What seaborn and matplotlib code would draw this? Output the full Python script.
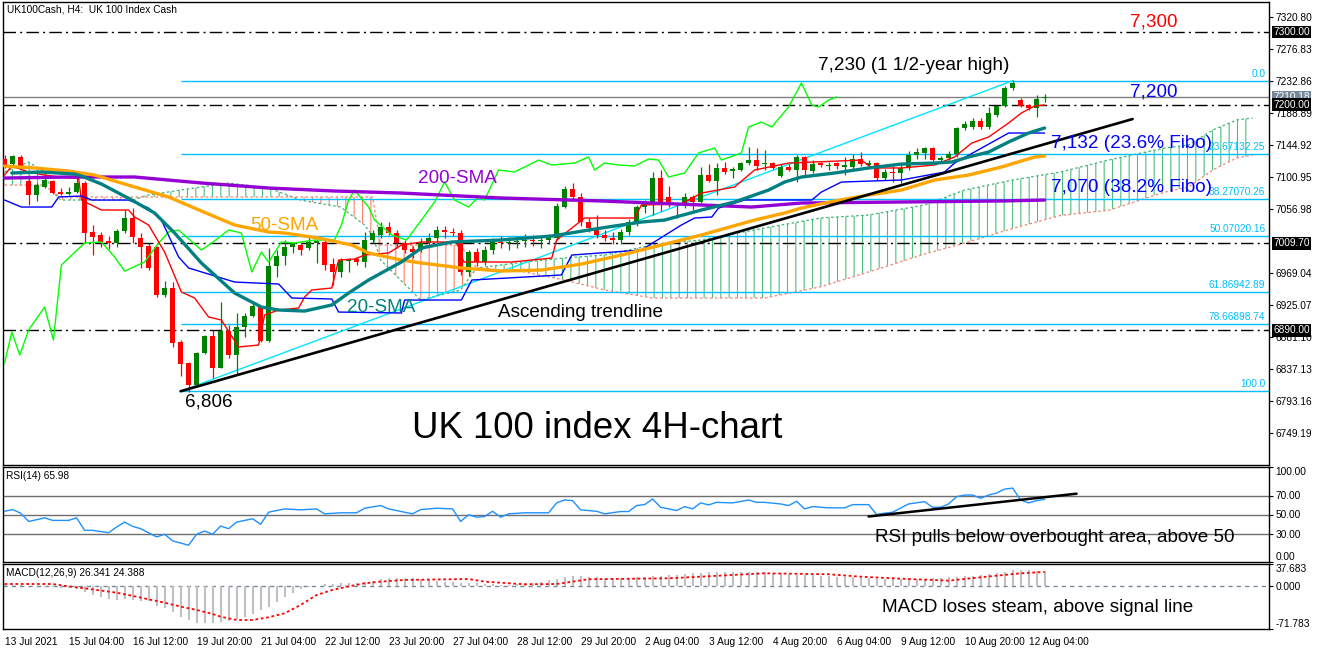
import numpy as np
import pandas as pd
import matplotlib
matplotlib.use("Agg")
import matplotlib.pyplot as plt
import matplotlib.transforms as mtransforms
import seaborn as sns

# UK100Cash H4 candles, bar 0 = 13 Jul 2021 00:00, last bar = 12 Aug 12:00
opens = [7125.4, 7118.5, 7128.0, 7095.2, 7076.0, 7087.0, 7095.0, 7080.0, 7078.0, 7080.0,
         7092.5, 7025.2, 7021.0, 7012.8, 7010.0, 7026.5, 7044.4, 7016.9, 7006.0, 7004.6,
         6938.7, 6948.3, 6874.1, 6845.3, 6815.1, 6859.0, 6882.4, 6838.4, 6889.2, 6856.3,
         6894.7, 6909.8, 6922.2, 6875.5, 6978.5, 6992.2, 7004.6, 7007.3, 7003.2, 7010.0,
         7011.4, 6981.2, 6970.3, 6985.3, 6988.1, 6984.0, 7014.2, 7021.0, 7032.0, 7023.8,
         7010.0, 7001.8, 7000.5, 7010.1, 7016.9, 7027.9, 7025.2, 7023.8, 6970.3, 6997.7,
         6984.0, 7000.5, 7011.5, 7010.1, 7011.5, 7012.8, 7014.2, 7012.8, 7014.2, 7016.9,
         7059.5, 7084.2, 7073.3, 7038.9, 7030.7, 7021.1, 7016.9, 7014.2, 7025.2, 7038.9,
         7059.5, 7066.4, 7099.3, 7073.2, 7065.0, 7063.6, 7073.2, 7066.4, 7103.4, 7095.2,
         7113.0, 7108.9, 7110.3, 7119.9, 7124.0, 7118.5, 7119.9, 7102.1, 7114.4, 7110.3,
         7128.1, 7108.9, 7119.9, 7115.8, 7119.9, 7114.4, 7114.4, 7125.4, 7117.2, 7119.9,
         7099.3, 7107.6, 7106.2, 7113.0, 7130.9, 7133.7, 7140.6, 7124.0, 7126.8, 7132.6,
         7168.0, 7169.4, 7177.6, 7169.4, 7185.8, 7198.2, 7222.9, 7206.4, 7199.5, 7195.4,
         7209.0]
highs = [7130.9, 7131.0, 7131.0, 7103.4, 7092.5, 7106.2, 7097.0, 7085.6, 7087.0, 7099.0,
         7095.2, 7034.8, 7025.2, 7019.7, 7029.3, 7055.4, 7058.1, 7023.8, 7010.0, 7006.0,
         6957.9, 6956.5, 6876.9, 6846.6, 6860.4, 6883.7, 6890.6, 6929.1, 6897.5, 6914.0,
         6914.0, 6927.7, 6923.6, 7003.2, 7000.5, 7014.2, 7011.4, 7010.0, 7018.3, 7014.0,
         7014.2, 6989.5, 6989.5, 6989.5, 6990.9, 7025.2, 7027.9, 7038.9, 7038.9, 7027.9,
         7014.2, 7006.0, 7016.9, 7023.8, 7033.4, 7033.4, 7030.7, 7027.9, 7000.5, 7003.2,
         7006.0, 7016.9, 7019.7, 7018.3, 7019.7, 7022.5, 7021.1, 7019.7, 7022.5, 7065.0,
         7088.4, 7092.5, 7078.7, 7044.4, 7048.5, 7027.9, 7025.2, 7029.3, 7043.0, 7062.3,
         7069.1, 7107.6, 7110.3, 7087.9, 7066.4, 7078.7, 7076.0, 7114.8, 7118.9, 7120.3,
         7121.7, 7114.4, 7121.7, 7141.9, 7140.6, 7138.0, 7121.7, 7118.5, 7118.5, 7130.9,
         7129.5, 7124.0, 7122.0, 7121.0, 7122.0, 7128.0, 7132.6, 7135.4, 7124.0, 7122.0,
         7111.7, 7115.8, 7119.9, 7137.0, 7140.0, 7142.0, 7142.0, 7130.0, 7137.0, 7170.0,
         7177.6, 7181.8, 7181.8, 7197.0, 7200.0, 7225.6, 7233.9, 7209.2, 7200.9, 7213.3,
         7214.6]
lows = [7113.0, 7117.0, 7113.0, 7062.2, 7067.7, 7085.6, 7077.0, 7076.0, 7076.0, 7078.7,
        7010.1, 6993.6, 7004.6, 7001.8, 7004.6, 7023.8, 7010.0, 6975.8, 6973.0, 6935.9,
        6935.9, 6867.3, 6827.5, 6806.0, 6812.4, 6857.7, 6824.7, 6838.4, 6852.2, 6828.8,
        6881.0, 6908.5, 6874.0, 6874.0, 6963.4, 6979.9, 6996.4, 6993.6, 7000.5, 6982.6,
        6973.0, 6952.4, 6963.4, 6970.3, 6979.9, 6977.1, 7010.0, 7017.0, 7021.0, 7003.2,
        6996.4, 6989.5, 6997.7, 7004.6, 7011.5, 7016.9, 7019.7, 6966.2, 6964.8, 6978.5,
        6979.9, 6995.0, 7003.2, 7000.5, 7003.2, 7004.6, 7006.0, 7003.2, 7008.7, 7014.2,
        7058.1, 7069.1, 7033.4, 7025.2, 7016.9, 7012.8, 7008.7, 7008.7, 7021.1, 7033.4,
        7051.3, 7048.6, 7054.0, 7059.5, 7044.4, 7058.1, 7055.4, 7065.0, 7094.0, 7076.0,
        7104.8, 7099.3, 7109.0, 7117.2, 7110.3, 7110.3, 7111.7, 7100.7, 7108.9, 7093.8,
        7103.4, 7106.2, 7114.0, 7110.0, 7112.0, 7103.0, 7111.7, 7115.8, 7113.0, 7096.6,
        7096.6, 7094.0, 7092.5, 7110.0, 7126.0, 7126.0, 7122.6, 7120.0, 7124.0, 7128.0,
        7165.0, 7167.0, 7167.0, 7167.0, 7183.0, 7197.0, 7220.0, 7196.8, 7193.0, 7183.0,
        7203.5]
closes = [7117.2, 7129.5, 7114.0, 7076.0, 7089.7, 7096.6, 7078.7, 7078.0, 7080.0, 7092.5,
          7023.8, 7018.3, 7011.4, 7010.0, 7026.5, 7044.4, 7018.3, 7004.6, 6975.8, 6938.7,
          6948.3, 6872.8, 6843.9, 6815.1, 6859.0, 6882.4, 6838.4, 6889.2, 6856.3, 6894.7,
          6909.8, 6923.6, 6875.5, 6978.5, 6992.2, 7004.6, 7010.0, 7000.5, 7011.4, 7012.8,
          6979.9, 6970.3, 6986.7, 6988.1, 6984.0, 7014.2, 7023.8, 7032.0, 7023.8, 7010.0,
          7000.5, 6997.7, 7010.1, 7016.9, 7027.9, 7025.2, 7023.8, 6970.3, 6997.7, 6984.0,
          7000.5, 7011.5, 7010.1, 7011.5, 7012.8, 7014.2, 7012.8, 7014.2, 7016.9, 7060.9,
          7084.2, 7073.3, 7038.9, 7030.7, 7021.1, 7016.9, 7014.2, 7025.2, 7038.9, 7059.5,
          7066.4, 7099.3, 7066.4, 7063.6, 7062.2, 7073.2, 7066.4, 7103.4, 7095.2, 7113.0,
          7107.6, 7111.7, 7119.9, 7124.0, 7115.8, 7119.9, 7113.0, 7114.4, 7110.3, 7128.1,
          7110.3, 7118.5, 7117.2, 7117.2, 7115.8, 7117.2, 7125.4, 7118.5, 7119.9, 7099.3,
          7107.6, 7106.2, 7113.0, 7130.9, 7135.0, 7140.6, 7124.0, 7126.8, 7132.6, 7168.0,
          7173.5, 7177.6, 7169.4, 7188.6, 7198.2, 7222.9, 7229.8, 7198.2, 7195.4, 7207.8,
          7210.2]

date_bars = [0, 8, 16, 24, 32, 40, 48, 56, 64, 72, 80, 88, 96, 104, 112, 120, 128]
date_labels = ["13 Jul 2021", "15 Jul 04:00", "16 Jul 12:00", "19 Jul 20:00", "21 Jul 04:00",
               "22 Jul 12:00", "23 Jul 20:00", "27 Jul 04:00", "28 Jul 12:00", "29 Jul 20:00",
               "2 Aug 04:00", "3 Aug 12:00", "4 Aug 20:00", "6 Aug 04:00", "9 Aug 12:00",
               "10 Aug 20:00", "12 Aug 04:00"]
price_ticks = [7320.80, 7276.83, 7232.86, 7188.89, 7144.92, 7100.95, 7056.98,
               6969.04, 6925.07, 6881.10, 6837.13, 6793.16, 6749.19]

# moving averages (bar, price)
sma20_x = [0.9, 4.6, 8.75, 9.6, 12.1, 15.9, 18.75, 21.25, 24.6, 28.75, 32.1, 34.25, 37.5,
           40.9, 43, 45.5, 49.6, 52.1, 55.9, 62.1, 68.4, 74.6, 79.6, 82.5, 87.1, 91.25,
           95.5, 97.5, 99.6, 103.75, 108, 112.1, 116.25, 118.4, 120.5, 123, 125.5, 128, 130]
sma20_y = [7106.2, 7107.6, 7104.8, 7102.1, 7091.1, 7069.1, 7051.3, 7023.8, 6982.6, 6941.4,
           6922.2, 6918.1, 6916.7, 6925.0, 6941.4, 6959.3, 6984.0, 7003.2, 7011.5, 7014.2,
           7019.7, 7030.7, 7038.9, 7041.6, 7055.4, 7066.4, 7082.8, 7093.8, 7100.7, 7106.2,
           7113.1, 7118.5, 7119.9, 7121.3, 7128.2, 7135.0, 7148.8, 7161.1, 7168.0]
sma50_x = [0, 3.75, 8, 11.25, 16.25, 20.5, 24.6, 28.75, 33, 35, 39.25, 43.4, 45.5, 49.6,
           52.1, 57.1, 62.1, 67.1, 72.1, 77.1, 82.1, 87.1, 93.75, 97.5, 99.6, 103.75, 108,
           112.1, 116.25, 120.5, 124.6, 128.75, 130]
sma50_y = [7115.8, 7113.1, 7108.9, 7103.4, 7087.0, 7073.3, 7054.0, 7034.8, 7025.2, 7023.8,
           7016.9, 7007.3, 6996.4, 6986.7, 6982.6, 6975.8, 6971.6, 6973.0, 6981.2, 6993.6,
           7007.3, 7021.1, 7041.6, 7051.3, 7058.1, 7067.8, 7076.0, 7082.8, 7096.6, 7103.4,
           7114.4, 7128.2, 7129.5]
sma200_x = [0, 8, 16.25, 24.6, 33, 41.25, 49.6, 62.1, 74.6, 87.1, 93.4, 99.6, 112.1, 124.6, 130]
sma200_y = [7099.3, 7100.7, 7100.7, 7092.5, 7085.6, 7081.5, 7078.7, 7071.9, 7067.8, 7062.3,
            7059.5, 7065.0, 7066.4, 7067.8, 7069.1]

# ichimoku lines
tenkan_x = [0, 0.9, 3, 5, 8, 9.25, 9.6, 12.1, 15.5, 16.25, 18, 20, 22.1, 23.75, 25.5, 27.1,
            29.25, 31.75, 32.5, 34.25, 36.75, 37.5, 38.4, 40.9, 41.75, 43.75, 45, 48, 49.6,
            52.1, 56.5, 57.4, 63.4, 68.4, 69, 72.5, 78.75, 79.6, 84.6, 87.1, 91.25, 93.75, 98,
            107.1, 108.4, 112.1, 116.25, 118.75, 120.9, 123, 125.5, 127.1, 128.75, 130]
tenkan_y = [7103.4, 7115.8, 7107.6, 7103.4, 7099.3, 7099.3, 7069.1, 7055.4, 7055.4, 7045.8,
            7034.8, 6997.7, 6942.8, 6934.6, 6908.5, 6904.4, 6867.3, 6870.0, 6911.2, 6918.1,
            6920.8, 6935.9, 6945.6, 6948.3, 6986.7, 6988.1, 6993.6, 6996.4, 7007.3, 7011.5,
            7011.5, 6984.0, 6984.0, 6989.5, 7014.2, 7044.4, 7044.4, 7062.3, 7063.6, 7078.7,
            7087.0, 7110.3, 7119.9, 7124.0, 7113.1, 7113.1, 7117.2, 7128.2, 7147.4, 7155.6,
            7174.9, 7188.6, 7198.2, 7199.6]
kijun_x = [0, 2.1, 5.9, 6.75, 9.6, 10.9, 15.5, 18, 19.6, 21.75, 23, 28.75, 34.25, 35.9,
           40.9, 41.75, 49.6, 50, 57.1, 58.4, 69.6, 70.9, 79.6, 84.6, 86.25, 88.4, 89.25,
           92.5, 100.9, 102.1, 104.6, 112.1, 117.5, 118.75, 124.6, 125.5, 130]
kijun_y = [7069.1, 7059.5, 7059.5, 7073.3, 7074.6, 7069.1, 7069.1, 7058.1, 7041.6, 6990.9,
           6975.8, 6956.5, 6953.8, 6934.6, 6933.2, 6915.3, 6914.0, 6931.8, 6931.8, 6959.3,
           6966.2, 6993.6, 7000.5, 7034.8, 7044.4, 7045.8, 7058.1, 7069.1, 7069.1, 7080.1,
           7093.8, 7096.6, 7107.6, 7119.9, 7155.6, 7161.1, 7161.1]
chikou_x = [0, 0.9, 1.9, 3, 5, 6.1, 7.1, 10, 12.1, 13.75, 15, 17.5, 19.25, 20.5, 21.75, 24.6,
            25.9, 28, 29.6, 30.9, 32.1, 33, 34.6, 36.25, 38.75, 41.25, 42.1, 43, 43.75, 45.5,
            46.25, 48.4, 50.25, 52.1, 53.75, 55, 56.25, 58, 59.25, 60, 61.75, 63.75, 66.75,
            68.4, 71.25, 73, 73.75, 75, 76.75, 78.75, 80.5, 81.75, 83, 85, 86.75, 88.75,
            89.6, 92.1, 93, 94.6, 95.9, 98, 99.6, 100.9, 101.75, 103, 104]
chikou_y = [6845.3, 6887.9, 6856.3, 6890.6, 6922.2, 6876.9, 6979.9, 7010.1, 7011.5, 6990.9,
            6971.6, 6984.0, 7010.1, 7025.2, 7027.9, 7000.5, 7010.1, 7027.9, 7023.8, 6970.3,
            6997.7, 6984.0, 7011.5, 7010.1, 7014.2, 7014.2, 7034.8, 7069.1, 7082.8, 7059.5,
            7041.6, 7021.1, 7014.2, 7041.6, 7066.4, 7093.8, 7069.1, 7059.5, 7073.3, 7069.1,
            7110.3, 7107.6, 7124.0, 7117.2, 7119.9, 7128.2, 7110.3, 7119.9, 7117.2, 7115.8,
            7125.4, 7124.0, 7100.7, 7106.2, 7133.7, 7140.5, 7124.0, 7133.7, 7169.4, 7176.2,
            7169.4, 7196.8, 7229.8, 7199.6, 7196.8, 7206.4, 7210.6]
cloud_x = [0, 3, 5, 6, 7, 16, 18, 22, 28, 33, 37, 42, 45, 46, 47, 52, 57, 59, 65, 70, 75,
           81, 87, 95, 102, 108, 115, 120, 126, 132, 138, 145, 148, 151, 154, 156]
span_a = [7107.6, 7121.3, 7107.6, 7080.1, 7069.1, 7069.1, 7076.0, 7082.8, 7092.5, 7085.6,
          7069.1, 7059.5, 7034.8, 7020.0, 6986.7, 6931.8, 6945.6, 6975.8, 6984.0, 6989.5,
          6993.6, 7007.3, 7014.2, 7030.7, 7044.4, 7048.5, 7062.3, 7082.8, 7096.6, 7107.6,
          7124.0, 7140.5, 7144.6, 7165.2, 7179.0, 7181.7]
span_b = [7089.7, 7089.7, 7089.7, 7080.1, 7073.3, 7073.3, 7073.3, 7073.3, 7073.3, 7073.3,
          7073.3, 7073.3, 7073.3, 7073.3, 7007.3, 7007.3, 7007.3, 6975.8, 6970.3, 6959.3,
          6945.6, 6934.6, 6934.6, 6934.6, 6950.0, 6970.3, 6995.0, 7010.0, 7030.0, 7048.0,
          7055.0, 7080.0, 7087.0, 7110.3, 7126.8, 7130.9]

# drawn objects
level_lines = [7300.0, 7200.0, 7009.70, 6890.0]
level_texts = ["7300.00", "7200.00", "7009.70", "6890.00"]
last_price = 7210.18
fib_levels = [7232.86, 7132.25, 7070.26, 7020.16, 6942.89, 6898.74, 6806.56]
fib_labels = ["0.0", "23.67132.25", "38.27070.26", "50.07020.16", "61.86942.89",
              "78.66898.74", "100.0"]
fib_start = 22
fib_line_x = [22, 126]
fib_line_y = [6806.56, 7232.86]
trend_x = [22, 141]
trend_y = [6806.56, 7180.3]

# RSI(14)
rsi_x = [0, 1, 2, 3, 4, 5, 6, 8, 9, 10, 11, 13, 14, 15, 16, 17, 19, 20, 21, 23, 24, 25, 26,
         27, 28, 29, 31, 32, 33, 35, 37, 39, 40, 42, 44, 45, 47, 48, 50, 51, 52, 54, 56, 57,
         58, 59, 60, 61, 62, 63, 65, 68, 69, 70, 71, 72, 74, 75, 77, 78, 79, 80, 81, 82, 84,
         85, 86, 87, 88, 89, 91, 93, 94, 95, 97, 98, 99, 100, 101, 103, 105, 106, 108, 109,
         110, 111, 113, 115, 116, 117, 118, 119, 120, 121, 122, 123, 124, 125, 126, 127, 128,
         129, 130]
rsi_y = [53.4, 55.2, 51.4, 42.7, 44.5, 46.5, 43.8, 43.8, 46.5, 33.3, 33.3, 30.9, 36.8, 42.0,
         37.5, 35.1, 26.4, 29.2, 22.2, 17.7, 29.2, 32.6, 29.2, 37.8, 35.1, 42.0, 45.5, 39.6,
         52.4, 55.9, 54.9, 55.9, 50.7, 51.8, 51.8, 56.6, 59.4, 55.9, 52.4, 50.7, 55.2, 56.6,
         55.9, 42.7, 49.7, 47.2, 47.9, 53.4, 47.2, 50.7, 51.8, 51.8, 62.2, 65.3, 64.6, 54.9,
         53.4, 50.7, 53.1, 53.1, 59.4, 60.4, 66.3, 57.6, 54.2, 58.3, 55.9, 62.2, 60.1, 62.8,
         62.2, 65.3, 62.8, 62.8, 61.1, 59.4, 63.9, 55.9, 58.3, 57.0, 57.0, 60.4, 60.4, 50.0,
         51.4, 52.4, 61.1, 63.5, 57.6, 57.6, 61.1, 68.75, 70.5, 70.5, 67.0, 70.5, 72.6, 76.7,
         77.8, 65.3, 62.2, 64.6, 65.98]
rsi_trend_x = [108, 134]
rsi_trend_y = [47.9, 71.9]

# MACD(12,26,9)
macd_hist = [2, 3, 2, 1, 0, -1, -1, -2, -3, -5,
             -9, -14.6, -18, -21.8, -23, -21.8, -23, -24.6, -25, -32.4,
             -37, -43.7, -52, -56.6, -62.2, -62.2, -62.2, -60.5, -58.3, -55.4,
             -51, -46.5, -39.7, -34.1, -25.7, -17.3, -10.6, -4.9, -1, 1,
             4, 4, 5, 6, 6, 8, 9, 12, 13.6, 14,
             14.6, 14, 12, 10, 9, 8, 7, 6, 5, 5,
             4, 4, 3, 3, 4, 5, 6, 8, 10, 13,
             16, 17, 17, 16, 15, 14, 14, 14, 14, 15,
             16, 17, 18, 19, 20, 21, 22, 23, 24, 24.7,
             25, 25, 25, 25, 24, 24, 23, 22, 21, 20,
             20, 19, 18, 17, 16, 15, 15, 14, 14, 13,
             13, 13, 13, 13, 13, 13, 14, 14, 15, 16,
             17, 18, 19, 21, 23, 25, 27, 27.5, 27, 26.5, 26.3]
signal_x = [0, 6, 8, 10, 12, 14, 16, 18, 20, 22, 24, 26, 27, 29, 31, 33, 35, 37, 39, 41, 43,
            45, 47, 50, 58, 60, 65, 69, 73, 83, 87, 91, 95, 103, 107, 112, 118, 122, 127, 130]
signal_y = [4, 4, 0, -3.3, -7, -10.6, -16, -21.8, -27.4, -34.1, -39.7, -46.5, -51, -56.6,
            -56.6, -52, -45.3, -31.3, -14.5, -6, 0, 5.2, 8, 10.8, 12.4, 8, 3.5, 4, 12, 13.6,
            16.3, 19.2, 22, 20.4, 16.3, 13, 9.6, 15.3, 22, 24.4]

sns.set_style("white")
plt.rcParams["font.family"] = ["Liberation Sans", "DejaVu Sans"]
plt.rcParams["hatch.linewidth"] = 0.8

W, H = 1322, 650
fig = plt.figure(figsize=(W / 100, H / 100), dpi=100)


def panel(top, bottom):
    return fig.add_axes([3 / W, 1 - bottom / H, 1266 / W, (bottom - top) / H])


ax = panel(2, 465)
ax_rsi = panel(467, 562)
ax_macd = panel(564, 629)
xmin, xmax = -0.2, 158.05
for a in (ax, ax_rsi, ax_macd):
    a.set_xlim(xmin, xmax)
    a.set_facecolor("white")
    for s in a.spines.values():
        s.set_color("black")
        s.set_linewidth(1.0)
    a.yaxis.tick_right()
    a.tick_params(axis="y", direction="out", length=3, width=0.8, pad=1.5,
                  labelsize=7.3, colors="black")
ax.set_xticks([])
ax_rsi.set_xticks([])

# ---------------- main price panel ----------------
ax.set_ylim(6705.3, 7341.0)
ax.set_yticks(price_ticks, labels=[f"{v:.2f}" for v in price_ticks])

cx = np.array(cloud_x)
sa = np.array(span_a)
sb = np.array(span_b)
ax.fill_between(cx, sa, sb, where=sa >= sb, interpolate=True, facecolor="none",
                edgecolor="#4DBF7A", hatch="||", linewidth=0, zorder=1)
ax.fill_between(cx, sa, sb, where=sa < sb, interpolate=True, facecolor="none",
                edgecolor="#FF7F66", hatch="||", linewidth=0, zorder=1)
ax.plot(cx, sa, color="#3CB371", lw=0.9, ls=(0, (2, 2)), zorder=1)
ax.plot(cx, sb, color="#FA8072", lw=0.9, ls=(0, (2, 2)), zorder=1)

trans = mtransforms.blended_transform_factory(ax.transAxes, ax.transData)
for lv in level_lines:
    ax.axhline(lv, color="black", lw=1.0, ls=(0, (9, 3, 1.5, 3)), zorder=2)
ax.axhline(last_price, color="#808080", lw=1.0, zorder=2)
ax.hlines(fib_levels, fib_start, xmax, color="#00BFFF", lw=1.0, zorder=2)
for lv, lab in zip(fib_levels, fib_labels):
    ax.text(0.997, lv + 2.5, lab, transform=trans, ha="right", va="bottom",
            fontsize=7.3, color="#00BFFF", zorder=7)
ax.plot(fib_line_x, fib_line_y, color="#00E5FF", lw=1.0, zorder=2)

df = pd.DataFrame({"open": opens, "high": highs, "low": lows, "close": closes})
df["bar"] = np.arange(len(df))
colors = np.where(df["close"] >= df["open"], "#008000", "#FF0000")
ax.vlines(df["bar"], df["low"], df["high"], colors=colors, lw=0.9, zorder=3)
body = (df["close"] - df["open"]).abs().clip(lower=1.3)
ax.bar(df["bar"], body, bottom=df[["open", "close"]].min(axis=1), width=0.62,
       color=colors, linewidth=0, zorder=3)

sns.lineplot(x=chikou_x, y=chikou_y, ax=ax, color="#00FF00", lw=1.0, zorder=4,
             estimator=None, sort=False)
sns.lineplot(x=tenkan_x, y=tenkan_y, ax=ax, color="#FF0000", lw=1.0, zorder=4,
             estimator=None, sort=False)
sns.lineplot(x=kijun_x, y=kijun_y, ax=ax, color="#0000FF", lw=1.0, zorder=4,
             estimator=None, sort=False)
sns.lineplot(x=sma200_x, y=sma200_y, ax=ax, color="#9400D3", lw=2.4, zorder=5,
             estimator=None, sort=False)
sns.lineplot(x=sma50_x, y=sma50_y, ax=ax, color="#FFA500", lw=2.4, zorder=5,
             estimator=None, sort=False)
sns.lineplot(x=sma20_x, y=sma20_y, ax=ax, color="#008080", lw=2.4, zorder=5,
             estimator=None, sort=False)
ax.plot(trend_x, trend_y, color="black", lw=1.9, zorder=6)

ax.text(1.0035, last_price, f"{last_price:.2f}", transform=trans, ha="left",
        va="center", fontsize=7.3, color="white",
        bbox=dict(boxstyle="square,pad=0.12", fc="#778899", ec="none"),
        clip_on=False, zorder=9)
for lv, lab in zip(level_lines, level_texts):
    ax.text(1.0035, lv, lab, transform=trans, ha="left", va="center", fontsize=7.3,
            color="white", bbox=dict(boxstyle="square,pad=0.12", fc="black", ec="none"),
            clip_on=False, zorder=10)
ax.set_xlabel("")
ax.set_ylabel("")

# ---------------- RSI panel ----------------
ax_rsi.set_ylim(0, 100)
ax_rsi.set_yticks([0, 30, 50, 70, 100], labels=["0.00", "30.00", "50.00", "70.00", "100.00"])
tl = ax_rsi.get_yticklabels()
tl[0].set_va("bottom")
tl[-1].set_va("top")
ax_rsi.hlines([30, 50, 70], xmin, xmax, color="#6E6E6E", lw=1.0)
sns.lineplot(x=rsi_x, y=rsi_y, ax=ax_rsi, color="#1E90FF", lw=1.0, estimator=None, sort=False)
ax_rsi.plot(rsi_trend_x, rsi_trend_y, color="black", lw=1.8)
ax_rsi.set_xlabel("")
ax_rsi.set_ylabel("")

# ---------------- MACD panel ----------------
ax_macd.set_ylim(-71.783, 37.683)
ax_macd.set_yticks([-71.783, 0, 37.683], labels=["-71.783", "0.000", "37.683"])
tl = ax_macd.get_yticklabels()
tl[0].set_va("bottom")
tl[-1].set_va("top")
ax_macd.axhline(0, color="#778899", lw=1.0, ls=(0, (3, 3)))
ax_macd.vlines(np.arange(len(macd_hist)), 0, macd_hist, color="#C0C0C0", lw=1.5)
ax_macd.plot(signal_x, signal_y, color="#FF0000", lw=1.3, ls=(0, (1.5, 1.5)))
ax_macd.set_xticks(date_bars, labels=date_labels)
ax_macd.tick_params(axis="x", direction="out", length=5, width=0.8, pad=1,
                    labelsize=7.3, colors="black")
for lbl in ax_macd.get_xticklabels():
    lbl.set_ha("left")


# ---------------- annotations ----------------
def note(x, y, s, **kw):
    fig.text(x / W, 1 - y / H, s, ha="left", va="center", **kw)


note(7, 9, "UK100Cash, H4:  UK 100 Index Cash", fontsize=7.3, color="black")
note(6, 476, "RSI(14) 65.98", fontsize=7.3, color="black")
note(6, 573, "MACD(12,26,9) 26.341 24.388", fontsize=7.3, color="black")
big = 13.6
note(1130, 22, "7,300", fontsize=big, color="#FF0000")
note(818, 65, "7,230 (1 1/2-year high)", fontsize=big, color="black")
note(1130, 92, "7,200", fontsize=big, color="#0000FF")
note(1051, 143, "7,132 (23.6% Fibo)", fontsize=big, color="#0000FF")
note(1051, 188, "7,070 (38.2% Fibo)", fontsize=big, color="#0000FF")
note(418, 179, "200-SMA", fontsize=big, color="#9400D3")
note(250, 225, "50-SMA", fontsize=big, color="#FFA500")
note(347, 307, "20-SMA", fontsize=big, color="#008080")
note(498, 313, "Ascending trendline", fontsize=big, color="black")
note(185, 402, "6,806", fontsize=big, color="black")
note(412, 428, "UK 100 index 4H-chart", fontsize=26.4, color="black")
note(875, 537, "RSI pulls below overbought area, above 50", fontsize=big, color="black")
note(882, 608, "MACD loses steam, above signal line", fontsize=big, color="black")

fig.savefig("out.png", dpi=100, facecolor="white")
